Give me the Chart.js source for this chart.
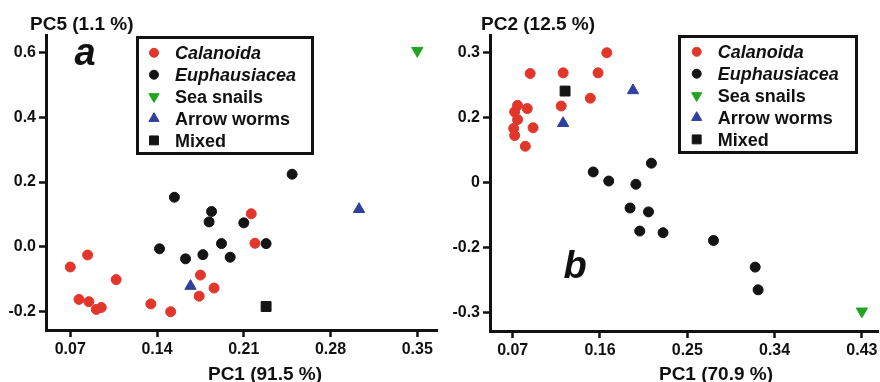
<!DOCTYPE html>
<html>
<head>
<meta charset="utf-8">
<script src="https://cdn.jsdelivr.net/npm/chart.js"></script>
<style>
  body { margin: 0; background: #fff; }
  .row { display: flex; width: 880px; height: 382px; }
  canvas { display: block; }
</style>
</head>
<body>
<div class="row">
  <canvas id="chartA" width="440" height="382"></canvas>
  <canvas id="chartB" width="440" height="382"></canvas>
</div>
<script>
const groups = ['Calanoida', 'Euphausiacea', 'Sea snails', 'Arrow worms', 'Mixed'];
const colors = ['#e2362b', '#141414', '#1fa51f', '#2e40a0', '#141414'];
const styles = ['circle', 'circle', 'triangle', 'triangle', 'rect'];
const rotations = [0, 0, 180, 0, 0];
const radii = [5, 5, 6.5, 6.5, 7];

// panel a : PC1 x PC5
const aCalanoida = [[0.070,-0.062],[0.084,-0.025],[0.107,-0.101],[0.077,-0.162],[0.085,-0.169],[0.091,-0.193],[0.095,-0.187],[0.135,-0.176],[0.151,-0.200],[0.175,-0.087],[0.174,-0.152],[0.186,-0.127],[0.216,0.102],[0.219,0.011]];
const aEuphausiacea = [[0.249,0.224],[0.154,0.153],[0.184,0.109],[0.182,0.077],[0.210,0.074],[0.142,-0.006],[0.192,0.010],[0.228,0.010],[0.163,-0.037],[0.177,-0.024],[0.199,-0.032]];
const aSeaSnails = [[0.350,0.605]];
const aArrowWorms = [[0.303,0.116],[0.167,-0.121]];
const aMixed = [[0.228,-0.184]];
const xTicksA = [0.07, 0.14, 0.21, 0.28, 0.35];
const yTicksA = [-0.2, 0, 0.2, 0.4, 0.6];
const yLabelsA = ['-0.2', '0.0', '0.2', '0.4', '0.6'];

// panel b : PC1 x PC2
const bCalanoida = [[0.167,0.300],[0.088,0.268],[0.122,0.269],[0.158,0.269],[0.150,0.230],[0.120,0.218],[0.075,0.219],[0.085,0.214],[0.072,0.209],[0.075,0.194],[0.091,0.169],[0.071,0.167],[0.072,0.145],[0.083,0.112]];
const bEuphausiacea = [[0.153,0.033],[0.169,0.005],[0.213,0.060],[0.197,-0.005],[0.191,-0.078],[0.210,-0.090],[0.201,-0.149],[0.225,-0.154],[0.277,-0.178],[0.320,-0.230],[0.323,-0.265]];
const bSeaSnails = [[0.430,-0.298]];
const bArrowWorms = [[0.122,0.183],[0.194,0.242]];
const bMixed = [[0.124,0.241]];
const xTicksB = [0.07, 0.16, 0.25, 0.34, 0.43];
const yTicksB = [-0.3, -0.2, 0, 0.2, 0.3];
const yLabelsB = ['-0.3', '-0.2', '0', '0.2', '0.3'];

const FONT = '"Liberation Sans", Arial, sans-serif';

// the PC2 axis has evenly spaced ticks with uneven steps, so values are
// placed piecewise between neighbouring ticks (tick i sits at position i)
function yPosB(v) {
  const t = yTicksB;
  let i = 0;
  while (i < t.length - 2 && v > t[i + 1]) i++;
  return i + (v - t[i]) / (t[i + 1] - t[i]);
}

function makeSets(lists, mapY) {
  return groups.map((g, i) => ({
    label: g,
    data: lists[i].map(([x, y]) => ({ x: x, y: mapY ? mapY(y) : y })),
    pointStyle: styles[i],
    rotation: rotations[i],
    pointRadius: radii[i],
    backgroundColor: colors[i],
    borderColor: colors[i],
    borderWidth: 1
  }));
}

// fixed axis size, and no extra room reserved for the end labels
function fitTo(size) {
  return s => {
    if (s.isHorizontal()) s.height = size; else s.width = size;
    s.paddingLeft = s.paddingRight = s.paddingTop = s.paddingBottom = 0;
  };
}

function axis(min, max, ticks, label, size) {
  return {
    type: 'linear',
    min: min,
    max: max,
    afterBuildTicks: s => { s.ticks = ticks.map(v => ({ value: v })); },
    afterFit: fitTo(size),
    ticks: {
      color: '#111',
      font: { family: FONT, size: 16, weight: 'bold' },
      padding: 3,
      autoSkip: false,
      maxRotation: 0,
      callback: label
    },
    grid: { drawOnChartArea: false, tickLength: 7, tickWidth: 2.5, tickColor: '#111' },
    border: { display: true, width: 3, color: '#111' }
  };
}

const annotate = {
  id: 'annotate',
  afterDraw(chart, args, o) {
    const ctx = chart.ctx;
    ctx.save();
    ctx.fillStyle = '#111';
    ctx.textBaseline = 'alphabetic';
    ctx.font = 'bold 19px ' + FONT;
    ctx.textAlign = 'left';
    ctx.fillText(o.yTitle, o.yTitleX, 30);
    ctx.textAlign = 'center';
    ctx.fillText(o.xTitle, o.xTitleX, 380);

    ctx.font = 'italic bold 38px ' + FONT;
    ctx.fillText(o.letter, o.letterX, o.letterY);

    // legend box inside the plot
    const L = o.legend;
    ctx.lineWidth = 3;
    ctx.strokeStyle = '#111';
    ctx.strokeRect(L.x, L.y, L.w, L.h);
    ctx.textAlign = 'left';
    chart.data.datasets.forEach((ds, i) => {
      const cy = L.y + 15.3 + i * 21.9;
      ctx.fillStyle = ds.backgroundColor;
      ctx.strokeStyle = ds.borderColor;
      ctx.lineWidth = 1;
      Chart.helpers.drawPoint(ctx, {
        pointStyle: ds.pointStyle, rotation: ds.rotation,
        radius: ds.pointRadius * 0.9, borderWidth: 1
      }, L.markX, cy);
      ctx.fillStyle = '#111';
      ctx.font = (i < 2 ? 'italic ' : '') + 'bold 18px ' + FONT;
      ctx.fillText(ds.label, L.textX, cy + 6.4);
    });
    ctx.restore();
  }
};

new Chart(document.getElementById('chartA'), {
  type: 'scatter',
  data: { datasets: makeSets([aCalanoida, aEuphausiacea, aSeaSnails, aArrowWorms, aMixed]) },
  options: {
    responsive: false,
    animation: false,
    layout: { autoPadding: false, padding: { top: 35, right: 3, left: 0, bottom: 0 } },
    scales: {
      x: axis(0.0504, 0.3659, xTicksA, v => v.toFixed(2), 52),
      y: axis(-0.2564, 0.6534, yTicksA, (v, i) => yLabelsA[i], 46)
    },
    plugins: {
      legend: { display: false },
      tooltip: { enabled: false },
      annotate: {
        yTitle: 'PC5 (1.1 %)', yTitleX: 30,
        xTitle: 'PC1 (91.5 %)', xTitleX: 265,
        letter: 'a', letterX: 85, letterY: 65,
        legend: { x: 137.5, y: 37.5, w: 175, h: 116, markX: 154, textX: 175 }
      }
    }
  },
  plugins: [annotate]
});

new Chart(document.getElementById('chartB'), {
  type: 'scatter',
  data: { datasets: makeSets([bCalanoida, bEuphausiacea, bSeaSnails, bArrowWorms, bMixed], yPosB) },
  options: {
    responsive: false,
    animation: false,
    layout: { autoPadding: false, padding: { top: 35, right: 2, left: 0, bottom: 0 } },
    scales: {
      x: axis(0.0466, 0.4466, xTicksB, v => v.toFixed(2), 51),
      y: axis(-0.2835, 4.273, yTicksB.map((v, i) => i), (v, i) => yLabelsB[i], 50)
    },
    plugins: {
      legend: { display: false },
      tooltip: { enabled: false },
      annotate: {
        yTitle: 'PC2 (12.5 %)', yTitleX: 41,
        xTitle: 'PC1 (70.9 %)', xTitleX: 276,
        letter: 'b', letterX: 135, letterY: 278,
        legend: { x: 239.5, y: 36.5, w: 177, h: 116, markX: 256.7, textX: 277.7 }
      }
    }
  },
  plugins: [annotate]
});
</script>
</body>
</html>
